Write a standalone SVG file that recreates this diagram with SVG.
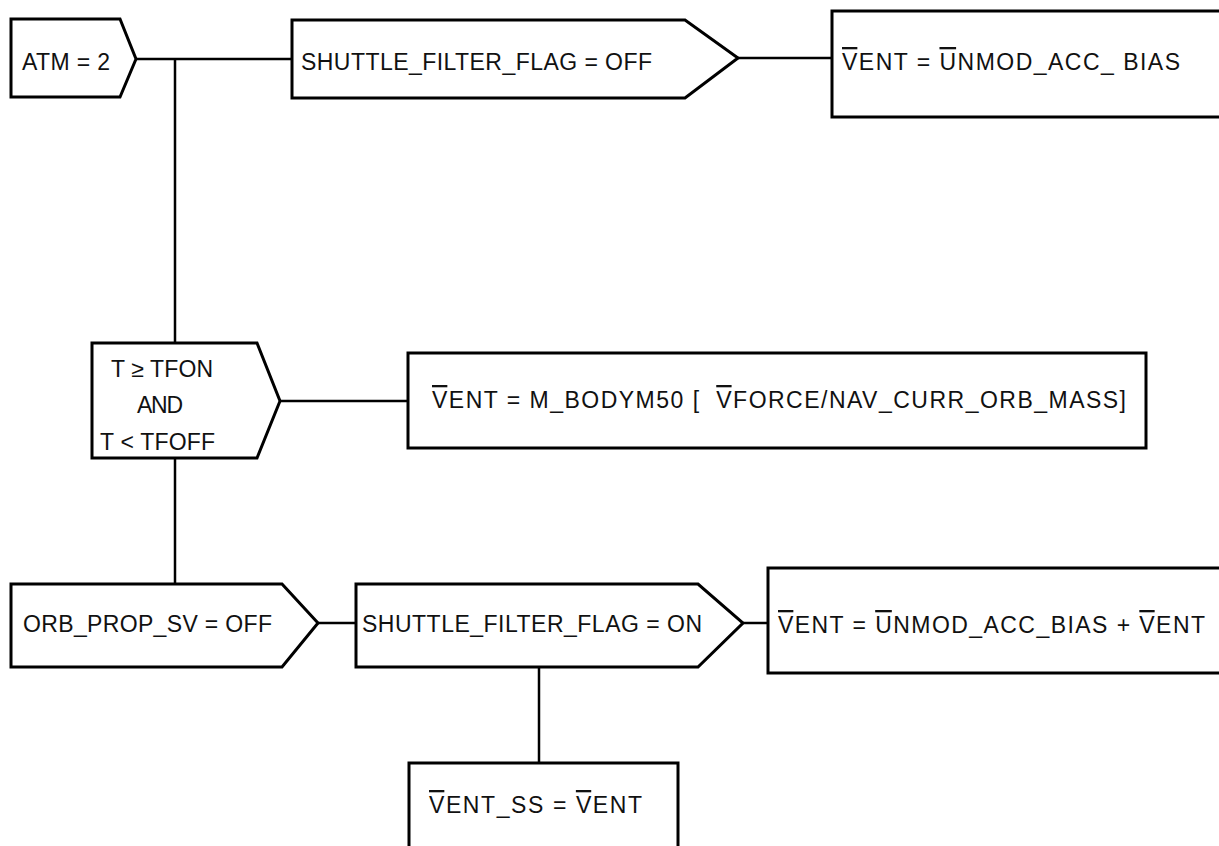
<svg xmlns="http://www.w3.org/2000/svg" width="1219" height="846" viewBox="0 0 1219 846">
<style>
.shape{fill:#fff;stroke:#000;stroke-width:3;stroke-linejoin:miter}
.conn{fill:none;stroke:#000;stroke-width:2.5}
text{font-family:"Liberation Sans",Arial,sans-serif;font-size:23px;fill:#111}
.ov{text-decoration:overline}
</style>
<rect width="1219" height="846" fill="#fff"/>
<g id="connectors">
<line class="conn" x1="136" y1="59" x2="292" y2="59"/>
<line class="conn" x1="175" y1="59" x2="175" y2="343"/>
<line class="conn" x1="738" y1="58" x2="832" y2="58"/>
<line class="conn" x1="280" y1="401" x2="408" y2="401"/>
<line class="conn" x1="175" y1="458" x2="175" y2="584"/>
<line class="conn" x1="318" y1="623" x2="356" y2="623"/>
<line class="conn" x1="743" y1="623" x2="768" y2="623"/>
<line class="conn" x1="539" y1="667" x2="539" y2="763"/>
</g>
<g id="atm">
<polygon class="shape" points="11,19 120,19 136,59 120,97 11,97"/>
<text x="22" y="70" textLength="88">ATM = 2</text>
</g>
<g id="sff-off">
<polygon class="shape" points="292,20 685,20 738,58 685,98 292,98"/>
<text x="301" y="70" textLength="351">SHUTTLE_FILTER_FLAG = OFF</text>
</g>
<g id="vent-bias">
<rect class="shape" x="832" y="11" width="400" height="106"/>
<text x="842" y="70" textLength="338"><tspan class="ov">V</tspan>ENT = <tspan class="ov">U</tspan>NMOD_ACC_ BIAS</text>
</g>
<g id="tfon">
<polygon class="shape" points="92,343 257,343 280,401 257,458 92,458"/>
<text x="111" y="377" textLength="102">T ≥ TFON</text>
<text x="137" y="413" textLength="46">AND</text>
<text x="100" y="450" textLength="115">T &lt; TFOFF</text>
</g>
<g id="vent-force">
<rect class="shape" x="408" y="353" width="738" height="95"/>
<text x="432" y="408" textLength="694"><tspan class="ov">V</tspan>ENT = M_BODYM50 [ &#160;<tspan class="ov">V</tspan>FORCE/NAV_CURR_ORB_MASS]</text>
</g>
<g id="orb-prop">
<polygon class="shape" points="11,584 282,584 318,623 282,667 11,667"/>
<text x="23" y="632" textLength="249">ORB_PROP_SV = OFF</text>
</g>
<g id="sff-on">
<polygon class="shape" points="356,584 698,584 743,623 698,667 356,667"/>
<text x="362" y="632" textLength="340">SHUTTLE_FILTER_FLAG = ON</text>
</g>
<g id="vent-sum">
<rect class="shape" x="768" y="568" width="460" height="105"/>
<text x="778" y="633" textLength="427"><tspan class="ov">V</tspan>ENT = <tspan class="ov">U</tspan>NMOD_ACC_BIAS + <tspan class="ov">V</tspan>ENT</text>
</g>
<g id="vent-ss">
<rect class="shape" x="409" y="763" width="269" height="100"/>
<text x="429" y="813" textLength="213"><tspan class="ov">V</tspan>ENT_SS = <tspan class="ov">V</tspan>ENT</text>
</g>
</svg>
